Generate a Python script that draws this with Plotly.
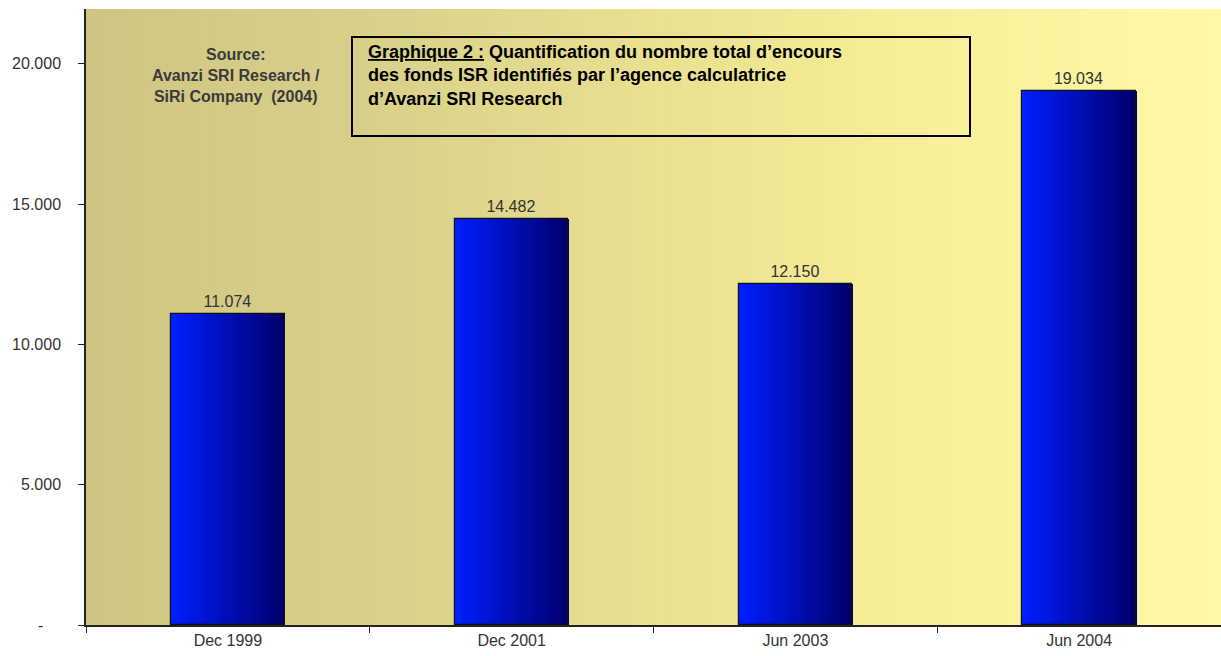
import plotly.graph_objects as go
import numpy as np

categories = ["Dec 1999", "Dec 2001", "Jun 2003", "Jun 2004"]
values = [11074, 14482, 12150, 19034]
value_labels = ["11.074", "14.482", "12.150", "19.034"]
ytick_vals = [0, 5000, 10000, 15000, 20000]
ytick_text = ["-\u00a0\u00a0\u00a0\u00a0", "5.000", "10.000", "15.000", "20.000"]
source_lines = ["Source:", "Avanzi SRI Research /", "SiRi Company  (2004)"]
title_lines = ["<u>Graphique 2 :</u> Quantification du nombre total d’encours",
               "des fonds ISR identifiés par l’agence calculatrice",
               "d’Avanzi SRI Research"]

W, H = 1221, 656
L, R, T, B = 86, 0, 9, 31
PW, PH = W - L - R, H - T - B
def px(x):
    return (x - L) / PW
def py(y):
    return (H - B - y) / PH

fig = go.Figure()

# bar gradient: stripes drawn as overlaid bar traces
bar_width = 0.4
n_stripes = 24
c0 = np.array([0, 30, 255])
c1 = np.array([0, 0, 110])
sw = bar_width / n_stripes
for i in range(n_stripes):
    t = i / (n_stripes - 1)
    c = (c0 * (1 - t) + c1 * t).astype(int)
    fig.add_trace(go.Bar(
        x=categories, y=values,
        width=sw * 1.15, offset=-bar_width / 2 + i * sw,
        marker=dict(color=f"rgb({c[0]},{c[1]},{c[2]})", line=dict(width=0)),
        showlegend=False, hoverinfo="skip",
    ))
# outline + labels
fig.add_trace(go.Bar(
    x=categories, y=values, width=bar_width,
    marker=dict(color="rgba(0,0,0,0)", line=dict(color="#111111", width=1.2)),
    text=value_labels, textposition="outside", cliponaxis=False,
    textfont=dict(family="Liberation Sans, Arial", size=16, color="#333333"),
    showlegend=False,
))

# background gradient
stops = [(0.0, (206, 197, 130)), (0.26, (217, 209, 138)), (0.45, (230, 221, 143)),
         (0.7, (246, 237, 151)), (1.0, (255, 249, 166))]
def col_at(p):
    for (a, ca), (b, cb) in zip(stops[:-1], stops[1:]):
        if a <= p <= b:
            t = (p - a) / (b - a)
            return tuple(int(round(ca[k] * (1 - t) + cb[k] * t)) for k in range(3))
    return stops[-1][1]
shapes = []
n_bg = 80
for i in range(n_bg):
    x0 = i / n_bg
    x1 = (i + 1) / n_bg
    c = col_at((x0 + x1) / 2)
    shapes.append(dict(type="rect", xref="paper", yref="paper", x0=x0, x1=x1 + 0.001,
                       y0=0, y1=1, fillcolor=f"rgb{c}", line=dict(width=0), layer="below"))
# title box
shapes.append(dict(type="rect", xref="paper", yref="paper",
                   x0=px(352), x1=px(970), y0=py(136), y1=py(37),
                   line=dict(color="#000000", width=2), fillcolor="rgba(0,0,0,0)"))

annotations = [
    dict(xref="paper", yref="paper", x=px(236), y=py(44),
         xanchor="center", yanchor="top", showarrow=False, align="center",
         text="<b>" + "<br>".join(source_lines) + "</b>",
         font=dict(family="Liberation Sans, Arial", size=16, color="#3a3a3a")),
    dict(xref="paper", yref="paper", x=px(366), y=py(40),
         xanchor="left", yanchor="top", showarrow=False, align="left",
         text="<b>" + "<br>".join(title_lines) + "</b>",
         font=dict(family="Liberation Sans, Arial", size=18, color="#000000")),
]

fig.update_layout(
    width=W, height=H,
    margin=dict(l=L, r=R, t=T, b=B),
    paper_bgcolor="white", plot_bgcolor="rgba(0,0,0,0)",
    barmode="overlay", bargap=0,
    shapes=shapes, annotations=annotations,
    font=dict(family="Liberation Sans, Arial", size=16, color="#333333"),
    xaxis=dict(showline=True, linecolor="#222222", linewidth=1.5,
               ticks="outside", ticklen=6, tickcolor="#222222", tickson="boundaries",
               showgrid=False, zeroline=False,
               tickfont=dict(size=16, color="#333333")),
    yaxis=dict(range=[0, 21950], showline=True, linecolor="#222222", linewidth=1.5,
               ticks="outside", ticklen=6, tickcolor="#222222",
               tickvals=ytick_vals, ticktext=ytick_text, showgrid=False, zeroline=False,
               ticklabelstandoff=14,
               tickfont=dict(size=16, color="#333333")),
)

fig.write_html("out.html", config={"displayModeBar": False})
with open("out.html", "r", encoding="utf-8") as f:
    html = f.read()
html = html.replace("<head>", "<head><style>html,body{margin:0;padding:0;}</style>", 1)
with open("out.html", "w", encoding="utf-8") as f:
    f.write(html)
